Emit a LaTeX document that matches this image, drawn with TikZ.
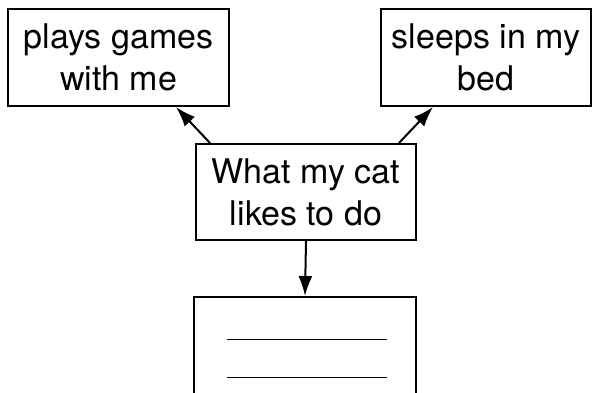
\documentclass[tikz,border=0pt]{standalone}
\usepackage{fontspec}
\setmainfont{TeX Gyre Heros}
\usetikzlibrary{arrows.meta}
\tikzset{
box/.style={draw, line width=2pt, align=center, inner sep=0pt, font=\fontsize{34}{42}\selectfont},
link/.style={line width=2pt, -{Latex[length=20pt,width=14pt]}},
blank/.style={line width=1pt}
}
\begin{document}
\begin{tikzpicture}[x=1pt,y=-1pt]
\useasboundingbox (0,0) rectangle (598,392);
\clip (0,0) rectangle (598,392);
\node[box, minimum width=221pt, minimum height=97pt] (games) at (118.5,57.5) {plays games\\with me};
\node[box, minimum width=210pt, minimum height=97pt] (bed) at (486,57.5) {sleeps in my\\bed};
\node[box, minimum width=220pt, minimum height=96pt] (cat) at (306,192) {What my cat\\likes to do};
\node[box, minimum width=222pt, minimum height=120pt] (answer) at (305,357) {};
\draw[link] ([xshift=15pt]cat.north west) -- ([xshift=-54pt]games.south east);
\draw[link] ([xshift=-18pt]cat.north east) -- ([xshift=53pt]bed.south west);
\draw[link] (cat.south) -- (answer.north);
\draw[blank] ([xshift=-78pt,yshift=-43pt]answer.north) -- ([xshift=82pt,yshift=-43pt]answer.north);
\draw[blank] ([xshift=-78pt,yshift=-81pt]answer.north) -- ([xshift=82pt,yshift=-81pt]answer.north);
\end{tikzpicture}
\end{document}
